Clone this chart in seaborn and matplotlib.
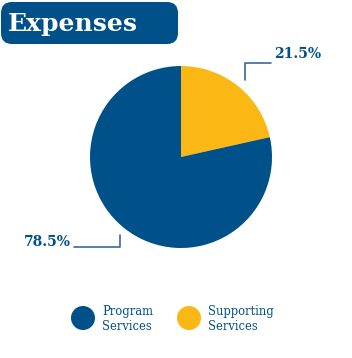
import matplotlib
matplotlib.use("Agg")
import matplotlib.pyplot as plt
from matplotlib.patches import FancyBboxPatch, Circle
import seaborn as sns

# chart data
categories = ["Supporting\nServices", "Program\nServices"]
shares = [21.5, 78.5]
colors = ["#fbb714", "#00508a"]
legend_order = [1, 0]
title = "Expenses"

sns.set_theme(style="white")
plt.rcParams["font.family"] = ["DejaVu Serif", "DejaVu Sans"]

W, H = 352, 358
fig = plt.figure(figsize=(W / 100, H / 100), dpi=100)
fig.patch.set_facecolor("white")

# overlay axes in pixel coords (y downwards)
ov = fig.add_axes([0, 0, 1, 1])
ov.set_xlim(0, W)
ov.set_ylim(H, 0)
ov.axis("off")

# header box
ov.add_patch(FancyBboxPatch((1, 2), 177, 42, boxstyle="round,pad=0,rounding_size=11",
                            facecolor="#00508a", edgecolor="none"))
ov.text(8, 24, title, color="white", fontsize=18, fontweight="bold",
        va="center", ha="left")

# pie
cx, cy, r = 181, 157, 91
pax = fig.add_axes([(cx - r) / W, (H - cy - r) / H, 2 * r / W, 2 * r / H])
pax.pie(shares, colors=colors, startangle=90, counterclock=False,
        wedgeprops=dict(linewidth=0))
pax.set_xlim(-1, 1)
pax.set_ylim(-1, 1)
pax.axis("off")

# leader lines and labels
line_c = "#3d6a99"
ov.plot([245, 245, 271], [80, 63, 63], color=line_c, lw=1.2)
ov.text(274, 54, f"{shares[0]}%", color="#00508a", fontsize=10, fontweight="bold",
        va="center", ha="left")
ov.plot([74, 120, 120], [247, 247, 235], color=line_c, lw=1.2)
ov.text(71, 242, f"{shares[1]}%", color="#00508a", fontsize=10, fontweight="bold",
        va="center", ha="right")

# legend
for i, (x0, idx) in enumerate(zip([83, 189], legend_order)):
    ov.add_patch(Circle((x0, 318), 12, facecolor=colors[idx], edgecolor="none"))
    ov.text(x0 + 19, 319, categories[idx], color="#00508a", fontsize=8.3,
            va="center", ha="left", linespacing=1.15)

fig.savefig("out.png", dpi=100)
